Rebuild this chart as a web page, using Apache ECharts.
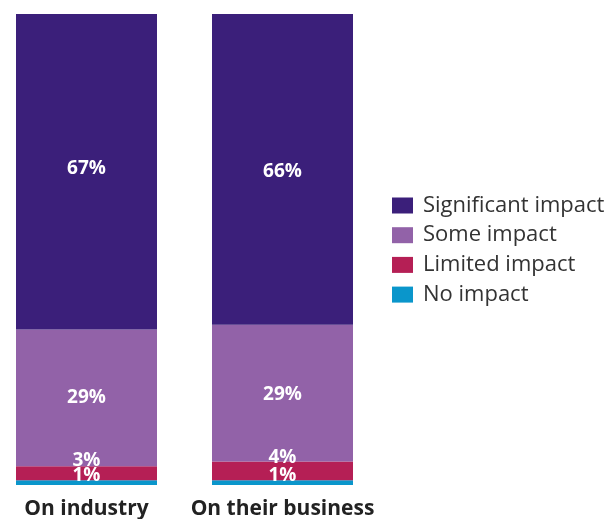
<!DOCTYPE html>
<html>
<head>
<meta charset="utf-8">
<script src="https://cdn.jsdelivr.net/npm/echarts@6/dist/echarts.min.js"></script>
<style>
  html, body { margin: 0; padding: 0; background: #fff; }
  #chart { width: 611px; height: 519px; }
</style>
</head>
<body>
<div id="chart"></div>
<script>
// Perceived impact, share of respondents (%)
const categories = ['On industry', 'On their business'];
const seriesNames = ['Significant impact', 'Some impact', 'Limited impact', 'No impact'];
const significant = [67, 66];
const some = [29, 29];
const limited = [3, 4];
const none = [1, 1];

const colors = {
  'Significant impact': '#3B1F7A',
  'Some impact': '#9262A8',
  'Limited impact': '#B51F55',
  'No impact': '#0A96CB'
};
// vertical label nudges per bar; small segments get theirs pushed upward to stay readable
const labelDy = {
  'Significant impact': [-3, 2],
  'Some impact': [0, 1.5],
  'Limited impact': [-13, -13],
  'No impact': [-7, -7]
};
const FONT = '"Open Sans", "Noto Sans", sans-serif';

// stacked bottom-up: no impact first, significant on top
const stackOrder = [
  ['No impact', none],
  ['Limited impact', limited],
  ['Some impact', some],
  ['Significant impact', significant]
];

const chart = echarts.init(document.getElementById('chart'), null, { renderer: 'canvas' });

chart.setOption({
  animation: false,
  grid: { left: -11.5, width: 392, top: 14, bottom: 34, outerBoundsMode: 'none', containLabel: false },
  legend: {
    orient: 'vertical',
    left: 392,
    top: 194.5,
    padding: 0,
    icon: 'rect',
    itemWidth: 21,
    itemHeight: 16,
    itemGap: 7.7,
    data: seriesNames,
    textStyle: { fontFamily: FONT, fontSize: 22, color: '#333', lineHeight: 22, padding: [0, 0, 0, 5] }
  },
  xAxis: {
    type: 'category',
    data: categories,
    axisLine: { show: false },
    axisTick: { show: false },
    axisLabel: { interval: 0, margin: 14, fontFamily: FONT, fontSize: 21, fontWeight: 'bold', color: '#222' }
  },
  yAxis: {
    type: 'value',
    min: 0,
    max: 100,
    show: false
  },
  series: stackOrder.map(([name, data]) => ({
    name: name,
    type: 'bar',
    stack: 'total',
    barWidth: 141,
    itemStyle: { color: colors[name] },
    data: data.map((v, j) => ({ value: v, label: { offset: [0, labelDy[name][j]] } })),
    label: {
      show: true,
      position: 'inside',
      formatter: p => p.value + '%',
      fontFamily: FONT,
      fontSize: 19,
      fontWeight: 'bold',
      color: '#fff'
    }
  }))
});
</script>
</body>
</html>
